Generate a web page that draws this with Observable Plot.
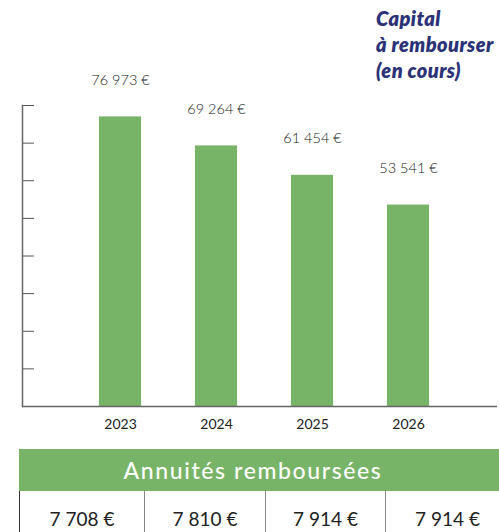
<!DOCTYPE html>
<html>
<head>
<meta charset="utf-8">
<script src="https://cdn.jsdelivr.net/npm/d3@7"></script>
<script src="https://cdn.jsdelivr.net/npm/@observablehq/plot@0.6"></script>
<style>
  html, body { margin: 0; padding: 0; background: #fff; overflow: hidden; }
  #wrap { position: relative; width: 499px; height: 532px; overflow: hidden; font-family: Lato, sans-serif; }
  #title { position: absolute; left: 376px; top: 5px; color: #2b3277; font-family: Lato, sans-serif;
           font-style: italic; font-weight: 800; font-size: 20px; line-height: 26px; letter-spacing: 0.4px; }
  #table { position: absolute; left: 19px; top: 449px; width: 490px; }
  #head { background: #78b467; color: #fff; height: 42px; line-height: 42px; font-size: 23px; font-weight: 500;
          letter-spacing: 1.6px; text-align: center; padding-right: 22px; font-family: Lato, sans-serif; }
  #row { display: flex; height: 45px; }
  #row div { box-sizing: border-box; text-align: center; font-size: 19px; color: #222; line-height: 55px;
             border-left: 1px solid #888; }
  #row div:first-child { border-left: 1.5px solid #333; }
</style>
</head>
<body>
<div id="wrap">
  <div id="chart"></div>
  <div id="title">Capital<br>à rembourser<br>(en cours)</div>
  <div id="table"><div id="head">Annuités remboursées</div><div id="row"></div></div>
</div>
<script>
const years = ["2023", "2024", "2025", "2026"];
const capital = [76973, 69264, 61454, 53541];
const capitalLabels = ["76 973 €", "69 264 €", "61 454 €", "53 541 €"];
const annuites = ["7 708 €", "7 810 €", "7 914 €", "7 914 €"];
const yTicks = [0, 10000, 20000, 30000, 40000, 50000, 60000, 70000, 80000];
const colWidths = [125, 121, 120, 124];

const data = years.map((y, i) => ({year: y, value: capital[i], label: capitalLabels[i]}));

const chart = Plot.plot({
  width: 499,
  height: 440,
  marginLeft: 22,
  marginRight: 2,
  marginTop: 105,
  marginBottom: 34,
  style: {fontFamily: "Lato, sans-serif", background: "#fff"},
  x: {domain: years, paddingInner: 0.566, paddingOuter: 0.739, align: 0.53, label: null},
  y: {domain: [0, 80000], label: null},
  marks: [
    Plot.barY(data, {x: "year", y: "value", fill: "#78b467"}),
    Plot.axisY({ticks: yTicks, tickSize: -12, tickFormat: () => "", stroke: "#555", strokeOpacity: 1, label: null}),
    Plot.frame({anchor: "left", stroke: "#666", strokeWidth: 1.5}),
    Plot.ruleY([0], {stroke: "#666", strokeWidth: 1.5}),
    Plot.axisX({tickSize: 0, tickPadding: 13, fontSize: 14, fill: "#222", label: null, letterSpacing: 1.3}),
    Plot.text(data, {x: "year", y: "value", text: "label", dy: -37, fontSize: 14.5, fontWeight: 300, fill: "#222", letterSpacing: -0.5})
  ]
});
document.getElementById("chart").appendChild(chart);

d3.select("#row").selectAll("div").data(annuites).join("div")
  .style("width", (d, i) => colWidths[i] + "px")
  .text(d => d);
</script>
</body>
</html>
